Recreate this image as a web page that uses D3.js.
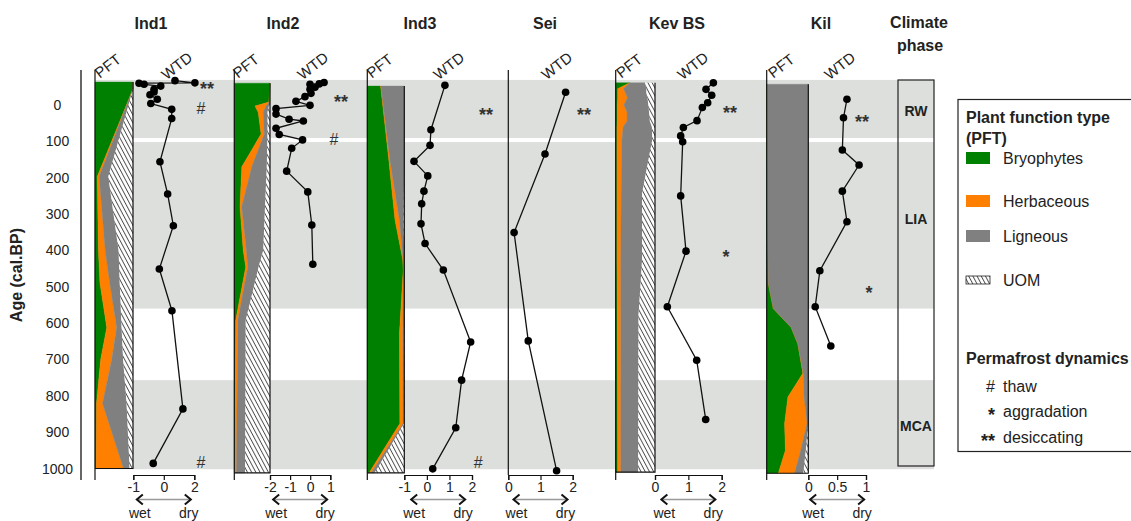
<!DOCTYPE html>
<html><head><meta charset="utf-8">
<script src="https://cdn.jsdelivr.net/npm/d3@7"></script>
<style>
body{margin:0;background:#fff;}
svg{display:block;font-family:"Liberation Sans",Arial,sans-serif;}
</style>
</head><body>
<svg id="chart" width="1131" height="521"></svg>
<script>
// ---------------- DATA ----------------
const ageTicks = [0,100,200,300,400,500,600,700,800,900,1000];
const bandStarts = [-69, 102, 757];
const bandEnds   = [91, 560, 1002];
const phaseNames = ["RW","LIA","MCA"];
const phaseLabelAges = [17, 314, 883];
const pftTypes = ["Bryophytes","Herbaceous","Ligneous","UOM"];
const siteNames = ["Ind1","Ind2","Ind3","Sei","Kev BS","Kil"];

// PFT composition (%), by age (cal. BP)
const ind1PftAges = [-63,-44,197,400,490,612,700,821,1000];
const ind1Bryo    = [100,100,6,9,13,31,15,4,3];
const ind1Herb    = [0,0,5,18,26,26,29,16,72];
const ind1Lign    = [0,0,24,35,26,13,30,63,16];
const ind1Uom     = [0,0,65,38,35,30,26,17,9];

const ind2PftAges = [-60,-8,3,20,80,170,280,400,446,592,1012];
const ind2Bryo    = [100,97,58,67,75,21,16,25,32,4,1];
const ind2Herb    = [0,1,31,14,9,28,5,9,6,6,5];
const ind2Lign    = [0,2,8,12,9,42,65,47,30,22,24];
const ind2Uom     = [0,0,3,7,7,9,14,19,32,68,70];

const ind3PftAges = [-52,150,317,427,455,628,876,1012];
const ind3Bryo    = [36,58,75,96,97,87,88,5];
const ind3Herb    = [1,3,12,1,1,9,9,6];
const ind3Lign    = [63,39,11,3,2,3,2,9];
const ind3Uom     = [0,0,2,0,0,1,1,80];

const kevPftAges = [-61,-45,-33,-20,0,20,45,60,96,243,427,580,1010];
const kevBryo    = [36,5,5,5,4,4,4,3,3,3,3,4,5];
const kevHerb    = [0,15,20,25,17,25,25,16,13,11,10,9,8];
const kevLign    = [38,58,53,51,62,56,58,73,77,53,54,45,44];
const kevUom     = [26,22,22,19,17,15,13,8,7,33,33,42,43];

const kilPftAges = [-57,400,490,560,612,657,738,803,876,950,1013];
const kilBryo    = [1,3,4,16,59,75,87,51,43,45,28];
const kilHerb    = [0,0,0,0,0,0,1,39,54,37,39];
const kilLign    = [99,97,96,84,41,25,12,10,3,12,21];
const kilUom     = [0,0,0,0,0,0,0,0,0,6,12];

// Water table depth reconstructions (WTD) by age
const ind1WtdAges = [-67,-61,-60,-57,-52,-43,-36,-28,-16,-4,12,37,156,245,332,451,566,836,986];
const ind1Wtd     = [1.05,2.03,-0.72,-0.47,0.35,0.02,0.02,-0.18,0.18,-0.14,0.89,0.89,0.31,0.69,0.97,0.28,0.90,1.44,-0.02];
const ind2WtdAges = [-62,-58,-57,-49,-43,-32,-23,-10,1,10,25,39,44,64,81,96,119,182,239,330,438];
const ind2Wtd     = [0.69,0.45,-0.01,0.24,-0.01,0.04,-0.26,-0.71,-0.01,-1.70,-1.70,-1.05,-0.34,-1.70,-1.54,-0.38,-0.92,-1.17,-0.12,0.08,0.13];
const ind3WtdAges = [-54,68,111,155,195,237,272,327,381,454,652,757,888,1001];
const ind3Wtd     = [0.80,0.18,0.14,-0.57,0.04,-0.13,-0.23,-0.26,-0.08,0.73,1.94,1.54,1.28,0.26];
const seiWtdAges  = [-35,135,351,649,1006];
const seiWtd      = [1.78,1.14,0.18,0.62,1.50];
const kevWtdAges  = [-61,-43,-27,-6,7,43,62,85,101,250,402,555,702,865];
const kevWtd      = [1.75,1.53,1.70,1.58,1.42,1.26,0.85,0.77,0.83,0.77,0.93,0.37,1.25,1.52];
const kilWtdAges  = [-16,35,124,165,237,321,456,555,663];
const kilWtd      = [0.67,0.61,0.59,0.88,0.59,0.67,0.20,0.12,0.39];

// WTD axis ticks
const ind1TickValues = [-1,0.5,2];   const ind1TickLabels = ["-1","0","2"];
const ind2TickValues = [-2,-1,0,1];  const ind2TickLabels = ["-2","-1","0","1"];
const ind3TickValues = [-1,0,1,2];   const ind3TickLabels = ["-1","0","1","2"];
const seiTickValues  = [0,1,2];      const seiTickLabels  = ["0","1","2"];
const kevTickValues  = [0,1,2];      const kevTickLabels  = ["0","1","2"];
const kilTickValues  = [0,0.5,1];    const kilTickLabels  = ["0","0.5","1"];

// Permafrost dynamics annotations: [symbol, age, wtd-position]
const ind1Marks = [["**",-54,2.63],["#",10,2.33],["#",982,2.33]];
const ind2Marks = [["**",-19,1.53],["#",94,1.18]];
const ind3Marks = [["**",17,2.62],["#",982,2.27]];
const seiMarks  = [["**",17,2.35]];
const kevMarks  = [["**",11,2.25],["*",407,2.13]];
const kilMarks  = [["**",36,0.93],["*",506,1.05]];

const legendSymbols = ["#","*","**"];
const legendSymbolLabels = ["thaw","aggradation","desiccating"];

// ---------------- LAYOUT / STYLE ----------------
const colors = {Bryophytes:"#008000", Herbaceous:"#ff8000", Ligneous:"#808080"};
const bandColor = "#dcdfdc";

function pftRows(ages, b, h, l, u){
  return ages.map((a,i)=>({age:a, Bryophytes:b[i], Herbaceous:h[i], Ligneous:l[i], UOM:u[i]}));
}
const sites = [
  {name:"Ind1", titleX:151, wtdLabelX:180, pft:pftRows(ind1PftAges,ind1Bryo,ind1Herb,ind1Lign,ind1Uom), pftX:[95,133],
   wAges:ind1WtdAges, w:ind1Wtd, dom:[-1,2], rng:[133.3,194.3], tv:ind1TickValues, tl:ind1TickLabels, marks:ind1Marks},
  {name:"Ind2", titleX:283, wtdLabelX:316, pft:pftRows(ind2PftAges,ind2Bryo,ind2Herb,ind2Lign,ind2Uom), pftX:[234.3,270],
   wAges:ind2WtdAges, w:ind2Wtd, dom:[-2,1], rng:[270,330.3], tv:ind2TickValues, tl:ind2TickLabels, marks:ind2Marks},
  {name:"Ind3", titleX:420, wtdLabelX:452, pft:pftRows(ind3PftAges,ind3Bryo,ind3Herb,ind3Lign,ind3Uom), pftX:[367.3,404.3],
   wAges:ind3WtdAges, w:ind3Wtd, dom:[-1,2], rng:[404.3,472], tv:ind3TickValues, tl:ind3TickLabels, marks:ind3Marks},
  {name:"Sei", titleX:545, wtdLabelX:560, pft:null, axisX:508.3,
   wAges:seiWtdAges, w:seiWtd, dom:[0,2], rng:[508.3,572.7], tv:seiTickValues, tl:seiTickLabels, marks:seiMarks},
  {name:"Kev BS", titleX:677, wtdLabelX:696, pft:pftRows(kevPftAges,kevBryo,kevHerb,kevLign,kevUom), pftX:[615.7,655],
   wAges:kevWtdAges, w:kevWtd, dom:[0,2], rng:[655,721.7], tv:kevTickValues, tl:kevTickLabels, marks:kevMarks},
  {name:"Kil", titleX:821, wtdLabelX:843, pft:pftRows(kilPftAges,kilBryo,kilHerb,kilLign,kilUom), pftX:[766.7,808.3],
   wAges:kilWtdAges, w:kilWtd, dom:[0,1], rng:[808.3,866], tv:kilTickValues, tl:kilTickLabels, marks:kilMarks}
];

// ---------------- DRAW ----------------
const svg = d3.select("#chart");
const y = d3.scaleLinear().domain([0,1000]).range([105,468.5]);

const defs = svg.append("defs");
const pat = defs.append("pattern").attr("id","hatch").attr("patternUnits","userSpaceOnUse")
  .attr("width",3.7).attr("height",10).attr("patternTransform","rotate(-28)");
pat.append("rect").attr("width",3.7).attr("height",10).attr("fill","#fff");
pat.append("line").attr("x1",0.5).attr("x2",0.5).attr("y1",0).attr("y2",10).attr("stroke","#222").attr("stroke-width",0.8);

// background climate bands
svg.append("g").selectAll("rect").data(bandStarts).join("rect")
  .attr("x",95).attr("width",934-95)
  .attr("y",d=>y(d)).attr("height",(d,i)=>y(bandEnds[i])-y(d))
  .attr("fill",bandColor);

// y axis
const yAxisG = svg.append("g");
yAxisG.append("line").attr("x1",81).attr("x2",81).attr("y1",70).attr("y2",480).attr("stroke","#000").attr("stroke-width",1.2);
yAxisG.selectAll("text").data(ageTicks).join("text")
  .attr("x",57.5).attr("y",d=>y(d)+5).attr("text-anchor","middle")
  .attr("font-size",14).attr("fill","#222").text(d=>d);
svg.append("text").attr("transform","translate(22,275) rotate(-90)").attr("text-anchor","middle")
  .attr("font-size",16).attr("font-weight","bold").attr("fill","#222").text("Age (cal.BP)");

const stack = d3.stack().keys(pftTypes);

sites.forEach(s=>{
  const g = svg.append("g");
  g.append("text").attr("x",s.titleX).attr("y",29).attr("text-anchor","middle")
    .attr("font-size",16).attr("font-weight","bold").attr("fill","#222").text(s.name);
  const xw = d3.scaleLinear().domain(s.dom).range(s.rng);
  let axisLineX;
  if (s.pft){
    const xp = d3.scaleLinear().domain([0,100]).range(s.pftX);
    const series = stack(s.pft);
    const area = d3.area().y(d=>y(d.data.age)).x0(d=>xp(d[0])).x1(d=>xp(d[1]));
    g.selectAll("path.pft").data(series).join("path").attr("class","pft")
      .attr("d",area)
      .attr("fill",d=>d.key==="UOM"?"url(#hatch)":colors[d.key])
      .attr("stroke",d=>d.key==="UOM"?"none":colors[d.key]).attr("stroke-width",0.4);
    const top = y(s.pft[0].age), bot = y(s.pft[s.pft.length-1].age);
    g.append("path").attr("d",`M${s.pftX[1]},${top}V${bot}H${s.pftX[0]}`)
      .attr("fill","none").attr("stroke","#111").attr("stroke-width",1.2);
    axisLineX = s.pftX[0];
    g.append("text").attr("transform",`translate(${(s.pftX[0]+s.pftX[1])/2-3},70) rotate(-38)`)
      .attr("text-anchor","middle").attr("font-size",15).attr("fill","#222").text("PFT");
  } else {
    axisLineX = s.axisX;
  }
  g.append("line").attr("x1",axisLineX).attr("x2",axisLineX).attr("y1",70).attr("y2",s.pft?480:475)
    .attr("stroke","#111").attr("stroke-width",1.2);
  g.append("text").attr("transform",`translate(${s.wtdLabelX},70) rotate(-38)`)
    .attr("text-anchor","middle").attr("font-size",15).attr("fill","#222").text("WTD");

  const pts = s.w.map((v,i)=>({v, age:s.wAges[i]}));
  g.append("path").datum(pts)
    .attr("d",d3.line().x(d=>xw(d.v)).y(d=>y(d.age)))
    .attr("fill","none").attr("stroke","#111").attr("stroke-width",1.3);
  g.selectAll("circle").data(pts).join("circle")
    .attr("cx",d=>xw(d.v)).attr("cy",d=>y(d.age)).attr("r",3.8).attr("fill","#000");

  const ax = d3.axisBottom(xw).tickValues(s.tv).tickSize(5).tickPadding(2)
    .tickFormat((d,i)=>s.tl[i]);
  const axg = g.append("g").attr("transform","translate(0,475)").call(ax);
  axg.select(".domain").attr("stroke","#111").attr("stroke-width",1.2);
  axg.selectAll(".tick line").attr("stroke","#111").attr("stroke-width",1.2);
  axg.selectAll(".tick text").attr("font-size",14).attr("fill","#222").attr("font-family","Liberation Sans, Arial, sans-serif");

  const c = (s.rng[0]+s.rng[1])/2;
  const ay = 499.5;
  g.append("line").attr("x1",c-27).attr("x2",c+27).attr("y1",ay).attr("y2",ay).attr("stroke","#999").attr("stroke-width",1.5);
  g.append("path").attr("d",`M${c-21},${ay-5}L${c-27},${ay}L${c-21},${ay+5}M${c+21},${ay-5}L${c+27},${ay}L${c+21},${ay+5}`)
    .attr("fill","none").attr("stroke","#111").attr("stroke-width",2);
  g.append("text").attr("x",c-24).attr("y",518).attr("text-anchor","middle").attr("font-size",14).attr("fill","#222").text("wet");
  g.append("text").attr("x",c+25).attr("y",518).attr("text-anchor","middle").attr("font-size",14).attr("fill","#222").text("dry");

  s.marks.forEach(m=>{
    const isHash = m[0]==="#";
    const fs = isHash?16:18;
    const off = isHash?0.36*fs:0.56*fs;
    g.append("text").attr("x",xw(m[2])).attr("y",y(m[1])+off).attr("text-anchor","middle")
      .attr("font-size",fs).attr("font-weight",isHash?"normal":"bold").attr("fill","#333").text(m[0]);
  });
});

// climate phase column
svg.append("text").attr("x",919).attr("y",28).attr("text-anchor","middle").attr("font-size",16).attr("font-weight","bold").attr("fill","#222").text("Climate");
svg.append("text").attr("x",920).attr("y",51).attr("text-anchor","middle").attr("font-size",16).attr("font-weight","bold").attr("fill","#222").text("phase");
svg.append("rect").attr("x",898).attr("y",80).attr("width",36).attr("height",386)
  .attr("fill","none").attr("stroke","#222").attr("stroke-width",1.2);
svg.selectAll("text.phase").data(phaseNames).join("text").attr("class","phase")
  .attr("x",916).attr("y",(d,i)=>y(phaseLabelAges[i])+5).attr("text-anchor","middle")
  .attr("font-size",14).attr("font-weight","bold").attr("fill","#222").text(d=>d);

// legend
const lg = svg.append("g");
lg.append("rect").attr("x",958).attr("y",99.5).attr("width",190).attr("height",352)
  .attr("fill","#fff").attr("stroke","#222").attr("stroke-width",1.2);
lg.append("text").attr("x",966).attr("y",123).attr("font-size",16).attr("font-weight","bold").attr("fill","#222").text("Plant function type");
lg.append("text").attr("x",966).attr("y",144).attr("font-size",16).attr("font-weight","bold").attr("fill","#222").text("(PFT)");
const legYs = [158, 201, 236, 280];
pftTypes.forEach((k,i)=>{
  if (k==="UOM"){
    lg.append("rect").attr("x",966).attr("y",legYs[i]-4).attr("width",24).attr("height",8)
      .attr("fill","url(#hatch)").attr("stroke","#222").attr("stroke-width",0.8);
  } else {
    lg.append("rect").attr("x",966).attr("y",legYs[i]-6).attr("width",24).attr("height",12).attr("fill",colors[k]);
  }
  lg.append("text").attr("x",1003).attr("y",legYs[i]+6).attr("font-size",16).attr("fill","#222").text(k);
});
lg.append("text").attr("x",966).attr("y",364).attr("font-size",16).attr("font-weight","bold").attr("fill","#222").text("Permafrost dynamics");
const symYs = [386, 411, 437];
legendSymbols.forEach((sym,i)=>{
  const isHash = sym==="#";
  lg.append("text").attr("x",995).attr("y",symYs[i]+(isHash?6:10)).attr("text-anchor","end")
    .attr("font-size",isHash?16:18).attr("font-weight",isHash?"normal":"bold").attr("fill","#222").text(sym);
  lg.append("text").attr("x",1003).attr("y",symYs[i]+6).attr("font-size",16).attr("fill","#222").text(legendSymbolLabels[i]);
});
</script>
</body></html>
